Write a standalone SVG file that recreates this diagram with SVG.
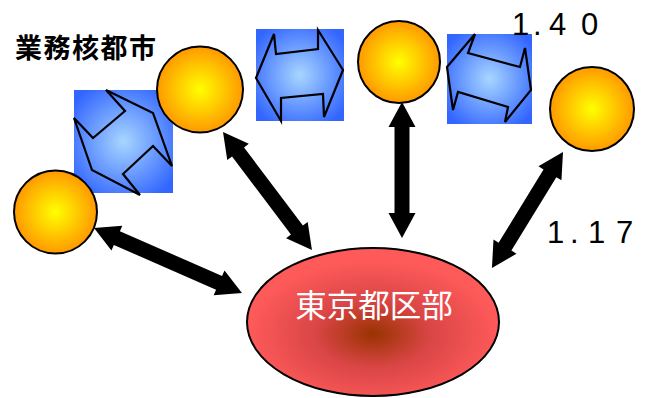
<svg xmlns="http://www.w3.org/2000/svg" width="647" height="398" viewBox="0 0 647 398">
  <defs>
    <radialGradient id="gBall" cx="0.5" cy="0.5" r="0.5">
      <stop offset="0" stop-color="#ffff00"/>
      <stop offset="1" stop-color="#ff9900"/>
    </radialGradient>
    <radialGradient id="gTile" cx="0.5" cy="0.5" r="0.62">
      <stop offset="0" stop-color="#a8d6ff"/>
      <stop offset="1" stop-color="#3366ff"/>
    </radialGradient>
    <radialGradient id="gHub" cx="0.5" cy="0.58" r="0.5">
      <stop offset="0" stop-color="#993300"/>
      <stop offset="0.45" stop-color="#d94545"/>
      <stop offset="1" stop-color="#ff5a5a"/>
    </radialGradient>
    <style>
      .ball { fill: url(#gBall); stroke: #000; stroke-width: 2; }
      .tile { fill: url(#gTile); }
      .flow { fill: none; stroke: #000; stroke-width: 2.2; stroke-linejoin: miter; }
      .link { fill: #000; }
      .num { font-family: "Liberation Sans", Arial, sans-serif; font-size: 31px; fill: #000; }
    </style>
  </defs>

  <!-- exchange tiles between the outer cities -->
  <g id="tile-1">
    <rect class="tile" x="74" y="90" width="99" height="103"/>
    <polygon class="flow" points="106,90 153,113 172,166 153,146 123,174 140,195 92,170 74,118 93,138 125,111"/>
  </g>
  <g id="tile-2">
    <rect class="tile" x="256" y="29" width="88" height="92"/>
    <polygon class="flow" points="256,78 274,34 276,54 318,49 318,30 343,70 324,117 323,94 281,98 281,121"/>
  </g>
  <g id="tile-3">
    <rect class="tile" x="447" y="34" width="85" height="90"/>
    <polygon class="flow" points="447,67 475,34 468,53 520,67 525,48 531,90 505,122 508,107 458,92 453,110"/>
  </g>

  <!-- outer business core cities -->
  <g id="city-1"><circle class="ball" cx="55.5" cy="212" r="41.5"/></g>
  <g id="city-2"><circle class="ball" cx="200" cy="89.5" r="43"/></g>
  <g id="city-3"><circle class="ball" cx="399" cy="62" r="41"/></g>
  <g id="city-4"><circle class="ball" cx="592" cy="109" r="42"/></g>

  <!-- central wards -->
  <g id="hub">
    <ellipse cx="373" cy="322" rx="126" ry="74" fill="url(#gHub)" stroke="#000" stroke-width="2"/>
    <text x="374" y="317" text-anchor="middle" font-family="'Noto Sans CJK JP', 'Noto Sans CJK SC', sans-serif" font-size="31.5" fill="#fff">東京都区部</text>
  </g>

  <!-- two-way links between the wards and each city -->
  <g id="links">
    <path class="link" transform="translate(94,228) rotate(23.7)" d="M0,0 L25,-13.5 L25,-7.5 L136.6,-7.5 L136.6,-13.5 L161.6,0 L136.6,13.5 L136.6,7.5 L25,7.5 L25,13.5 Z"/>
    <path class="link" transform="translate(223,132) rotate(53)" d="M0,0 L25,-13.5 L25,-7.5 L122.8,-7.5 L122.8,-13.5 L147.8,0 L122.8,13.5 L122.8,7.5 L25,7.5 L25,13.5 Z"/>
    <path class="link" transform="translate(402,102) rotate(90)" d="M0,0 L25,-13.5 L25,-7.5 L111,-7.5 L111,-13.5 L136,0 L111,13.5 L111,7.5 L25,7.5 L25,13.5 Z"/>
    <path class="link" transform="translate(563,152) rotate(121.5)" d="M0,0 L25,-13.5 L25,-7.5 L111,-7.5 L111,-13.5 L136,0 L111,13.5 L111,7.5 L25,7.5 L25,13.5 Z"/>
  </g>

  <!-- labels -->
  <g id="labels">
    <text x="15" y="58" font-family="'Noto Sans CJK JP', 'Noto Sans CJK SC', sans-serif" font-size="27" font-weight="bold" letter-spacing="1.5" fill="#000">業務核都市</text>
    <text class="num" x="512 533 549 581" y="35">1.40</text>
    <text class="num" x="547 570 588 616" y="243">1.17</text>
  </g>
</svg>
